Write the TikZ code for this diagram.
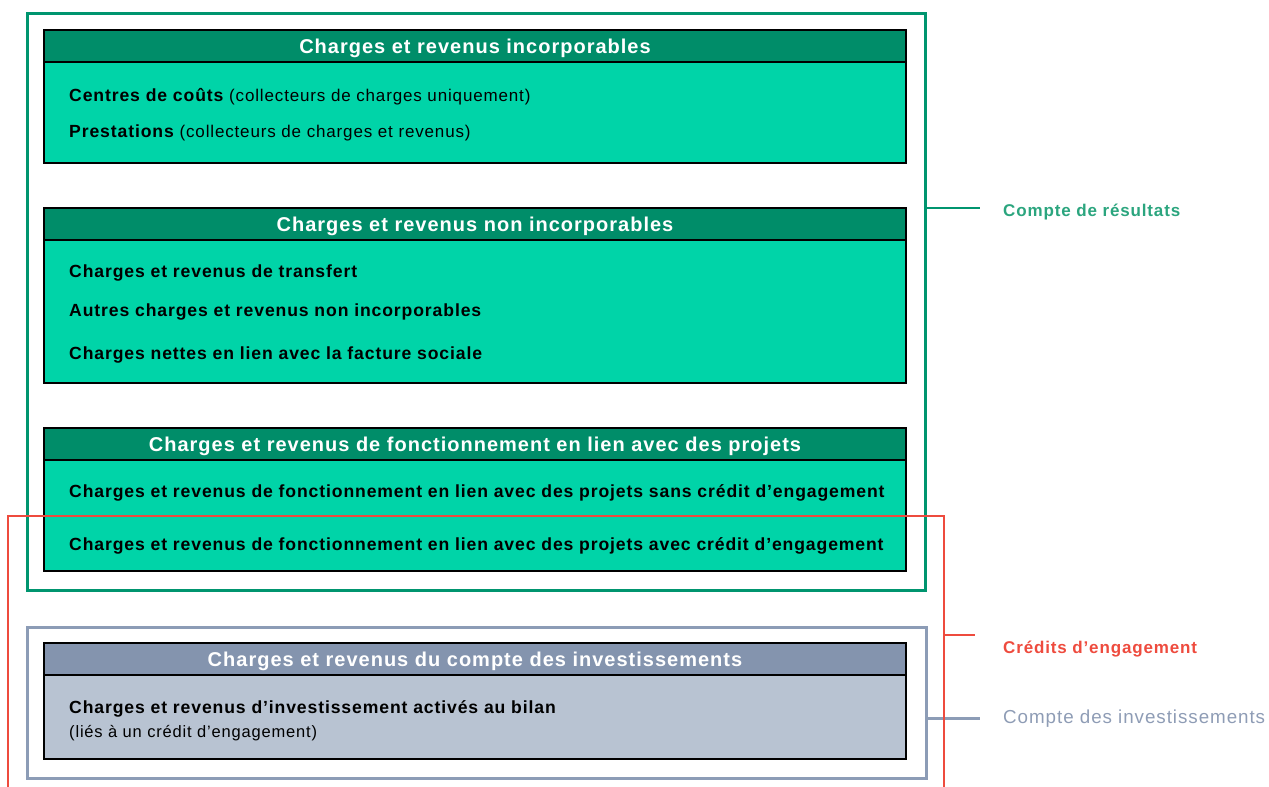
\documentclass[tikz,border=0pt]{standalone}
\usepackage{fontspec}
\setmainfont{Liberation Sans}[LetterSpace=5]
\usepackage{tikz}

\definecolor{vertcadre}{HTML}{00956F}
\definecolor{verttitre}{HTML}{008D69}
\definecolor{vertcorps}{HTML}{00D4A8}
\definecolor{verttexte}{HTML}{2BA57E}
\definecolor{bleucadre}{HTML}{8C9CB6}
\definecolor{bleutitre}{HTML}{8494AE}
\definecolor{bleucorps}{HTML}{B8C3D2}
\definecolor{bleutexte}{HTML}{8E9CB5}
\definecolor{rouge}{HTML}{EE4B3E}

\newcommand{\precision}[1]{{\mdseries\fontsize{17}{20}\selectfont #1}}

\tikzset{
  bloc/.style={draw=black, line width=1.5pt, minimum width=862pt, inner sep=0pt},
  titre/.style={bloc, minimum height=32pt, anchor=north, text=white,
    text height=15pt, text depth=0.6pt, font=\bfseries\fontsize{20}{24}\selectfont},
  poste/.style={anchor=west, inner sep=0pt, font=\bfseries\fontsize{17.6}{21}\selectfont},
  etiq/.style={anchor=west, inner sep=0pt, font=\bfseries\fontsize{17}{20}\selectfont}
}

\begin{document}
\begin{tikzpicture}[x=1pt, y=-1pt]
    \useasboundingbox (0,0) rectangle (1269,787);

    % Cadres
    \node[draw=vertcadre, line width=3pt, minimum width=898pt, minimum height=577pt] (cr) at (476,301.5) {};
    \node[draw=bleucadre, line width=3pt, minimum width=899pt, minimum height=151pt] (ci) at (476.5,702.5) {};

    % Charges et revenus incorporables
    \node[bloc, fill=vertcorps, minimum height=133pt] (incorp) at (475,96.5) {};
    \node[titre, fill=verttitre] (incorp-t) at (incorp.north) {Charges et revenus incorporables};
    \node[poste] (centres) at (69,97) {Centres de coûts \precision{(collecteurs de charges uniquement)}};
    \node[poste] (prest) at (69,133) {Prestations \precision{(collecteurs de charges et revenus)}};

    % Charges et revenus non incorporables
    \node[bloc, fill=vertcorps, minimum height=175pt] (nonincorp) at (475,295.5) {};
    \node[titre, fill=verttitre] (nonincorp-t) at (nonincorp.north) {Charges et revenus non incorporables};
    \node[poste] (transfert) at (69,273) {Charges et revenus de transfert};
    \node[poste] (autres) at (69,312) {Autres charges et revenus non incorporables};
    \node[poste] (sociale) at (69,355) {Charges nettes en lien avec la facture sociale};

    % Fonctionnement en lien avec des projets
    \node[bloc, fill=vertcorps, minimum height=143pt] (projets) at (475,499.5) {};
    \node[titre, fill=verttitre] (projets-t) at (projets.north) {Charges et revenus de fonctionnement en lien avec des projets};
    \node[poste] (sans) at (69,493) {Charges et revenus de fonctionnement en lien avec des projets sans crédit d’engagement};
    \node[poste] (avec) at (69,546) {Charges et revenus de fonctionnement en lien avec des projets avec crédit d’engagement};

    % Compte des investissements
    \node[bloc, fill=bleucorps, minimum height=116pt] (invest) at (475,701) {};
    \node[titre, fill=bleutitre] (invest-t) at (invest.north) {Charges et revenus du compte des investissements};
    \node[poste] (actives) at (69,709) {Charges et revenus d’investissement activés au bilan};
    \node[poste, font=\fontsize{16.5}{19}\selectfont] (lies) at (69,733) {(liés à un crédit d’engagement)};

    % Etiquettes
    \node[etiq, text=verttexte] (l-cr) at (1003,212) {Compte de résultats};
    \node[etiq, text=rouge] (l-ce) at (1003,649) {Crédits d’engagement};
    \node[etiq, text=bleutexte, font=\fontsize{18.8}{22}\selectfont] (l-ci) at (1003,719) {Compte des investissements};

    % Traits vers les etiquettes
    \coordinate (s-cr) at (980,208);
    \coordinate (s-ci) at (980,718);
    \draw[vertcadre, line width=1.5pt] (cr.east |- s-cr) -- (s-cr);
    \draw[bleucadre, line width=3pt] (ci.east |- s-ci) -- (s-ci);

    % Credits d'engagement (crochet rouge)
    \coordinate (ce-bg) at (8,787);
    \coordinate (ce-hd) at (944,516);
    \coordinate (ce-bd) at (944,787);
    \coordinate (s-ce) at (975,635);
    \draw[rouge, line width=2.5pt] (ce-bg) |- (ce-hd) -- (ce-bd);
    \draw[rouge, line width=1.5pt] (ce-hd |- s-ce) -- (s-ce);
\end{tikzpicture}
\end{document}
